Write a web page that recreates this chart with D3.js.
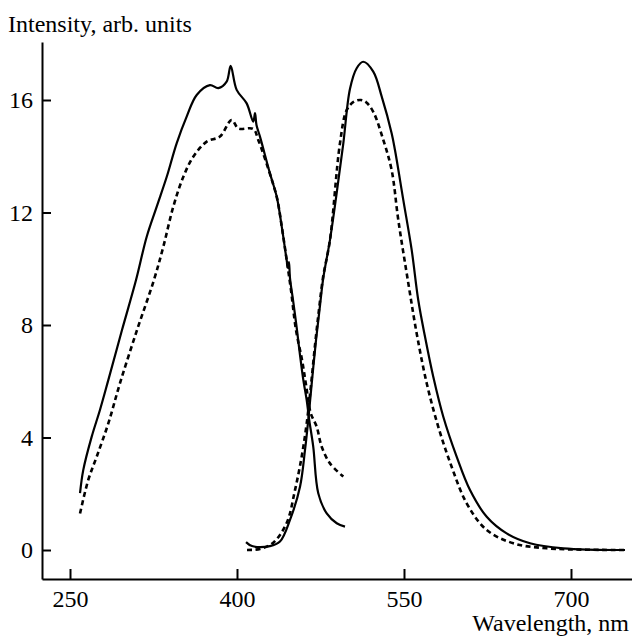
<!DOCTYPE html>
<html>
<head>
<meta charset="utf-8">
<script src="https://cdn.jsdelivr.net/npm/d3@7"></script>
<style>
  body { margin: 0; background: #fff; }
  text { font-family: "Liberation Serif", "Times New Roman", serif; }
</style>
</head>
<body>
<div id="container"></div>
<script>
/* DATA */
// excitation, solid
const exSolid = [
  [259.0, 2.02], [261.9, 2.84], [269.5, 4.03], [276.9, 4.98], [284.4, 6.04],
  [296.7, 7.82], [309.3, 9.6], [318.9, 11.14], [327.9, 12.21], [336.9, 13.27],
  [345.8, 14.46], [354.8, 15.41], [363.8, 16.18], [375.7, 16.53], [383.2, 16.42],
  [390.7, 16.65], [394.3, 17.21], [399.7, 16.36], [408.7, 15.88], [414.6, 15.23],
  [416.2, 15.53], [417.5, 15.11], [420.7, 14.69], [429.6, 13.39], [435.7, 12.56],
  [440.2, 11.5], [444.6, 10.31], [445.8, 10.03], [446.7, 10.24], [447.6, 9.67],
  [450.3, 8.89], [453.9, 7.82], [456.6, 6.93], [459.6, 6.04], [462.6, 5.33],
  [464.9, 4.62], [468.5, 3.67], [473.0, 2.02], [480.6, 1.30], [489.6, 0.95],
  [497.0, 0.83]
];
// excitation, dashed
const exDashed = [
  [259.0, 1.30], [266.4, 2.49], [274.0, 3.32], [284.4, 4.50], [294.9, 5.93],
  [310.2, 7.82], [325.4, 9.6], [333.8, 10.78], [342.8, 12.21], [351.8, 13.27],
  [360.7, 13.98], [372.8, 14.52], [384.7, 14.7], [395.2, 15.29], [401.2, 14.99],
  [414.6, 14.97], [419.1, 14.58], [429.6, 13.37], [435.9, 12.52], [440.4, 11.45],
  [444.9, 10.24], [448.5, 9.24], [453.0, 7.82], [458.4, 6.76], [462.0, 5.87],
  [466.2, 4.87], [471.6, 4.38], [476.1, 3.67], [483.5, 3.08], [495.5, 2.61]
];
// emission, solid
const emSolid = [
  [408.1, 0.28], [413.5, 0.14], [429.6, 0.14], [438.6, 0.30], [447.6, 1.07],
  [456.6, 2.25], [461.1, 3.56], [464.0, 4.62], [467.4, 6.04], [471.0, 7.47],
  [474.6, 8.71], [477.5, 9.67], [483.5, 11.02], [489.5, 12.68], [495.5, 14.46],
  [501.5, 16.4], [507.5, 17.13], [513.4, 17.36], [522.4, 17.01], [530.0, 16.12],
  [538.9, 14.82], [541.9, 14.22], [549.4, 12.44], [556.9, 10.67], [562.8, 8.89],
  [568.9, 7.58], [576.3, 6.16], [585.3, 4.74], [597.3, 3.32], [609.3, 2.13],
  [624.3, 1.18], [642.2, 0.59], [663.2, 0.24], [693.1, 0.06], [748.5, 0.0]
];
// emission, dashed
const emDashed = [
  [409.0, 0.0], [420.7, 0.04], [432.3, 0.25], [444.6, 0.96], [452.1, 2.13],
  [458.1, 3.32], [462.6, 4.50], [466.5, 5.87], [470.1, 7.29], [473.6, 8.53],
  [477.2, 9.67], [483.5, 11.02], [492.5, 14.46], [498.5, 15.64], [505.0, 15.94],
  [511.2, 16.0], [516.0, 15.92], [522.4, 15.58], [531.4, 14.58], [538.9, 13.51],
  [544.9, 11.73], [553.9, 9.48], [561.4, 7.70], [570.4, 5.93], [580.8, 4.38],
  [592.8, 2.96], [606.3, 1.66], [624.3, 0.71], [648.2, 0.24], [678.2, 0.06],
  [748.5, 0.0]
];

const xTicks = [250, 400, 550, 700];
const yTicks = [0, 4, 8, 12, 16];

/* LAYOUT */
const width = 632, height = 636,
  margin = { top: 42, bottom: 57, left: 42, right: 0 };

const svg = d3.select("#container")
  .append("svg")
  .attr("width", width)
  .attr("height", height);

const x = d3.scaleLinear()
  .domain([224.85, 754.8])
  .range([margin.left, width - margin.right]);

const y = d3.scaleLinear()
  .domain([-1.031, 18.062])
  .range([height - margin.bottom, margin.top]);

// AXES
const xAxis = svg.append("g")
  .attr("transform", `translate(0,${height - margin.bottom})`)
  .call(d3.axisBottom(x).tickValues(xTicks).tickSizeInner(-10).tickSizeOuter(0).tickPadding(11));

const yAxis = svg.append("g")
  .attr("transform", `translate(${margin.left},0)`)
  .call(d3.axisLeft(y).tickValues(yTicks).tickSizeInner(-9).tickSizeOuter(0).tickPadding(9));

[xAxis, yAxis].forEach(g => {
  g.selectAll("path, line").attr("stroke", "#000").attr("stroke-width", 2);
  g.selectAll("text")
    .attr("fill", "#000")
    .style("font-size", "24px")
    .style("font-family", "'Liberation Serif', serif");
});

// AXIS TITLES
svg.append("text")
  .attr("x", 8)
  .attr("y", 32)
  .style("font-size", "24px")
  .text("Intensity, arb. units");

svg.append("text")
  .attr("x", 629)
  .attr("y", 631)
  .attr("text-anchor", "end")
  .style("font-size", "24px")
  .text("Wavelength, nm");

// CURVES
const line = d3.line()
  .x(d => x(d[0]))
  .y(d => y(d[1]))
  .curve(d3.curveCatmullRom.alpha(0.5));

const curves = [
  { data: exSolid, dash: null },
  { data: exDashed, dash: "5,3.5" },
  { data: emSolid, dash: null },
  { data: emDashed, dash: "5,3.5" }
];

svg.selectAll("path.curve")
  .data(curves)
  .enter()
  .append("path")
  .attr("class", "curve")
  .attr("d", d => line(d.data))
  .attr("fill", "none")
  .attr("stroke", "#000")
  .attr("stroke-width", d => d.dash ? 2.6 : 2.2)
  .attr("stroke-dasharray", d => d.dash);
</script>
</body>
</html>
